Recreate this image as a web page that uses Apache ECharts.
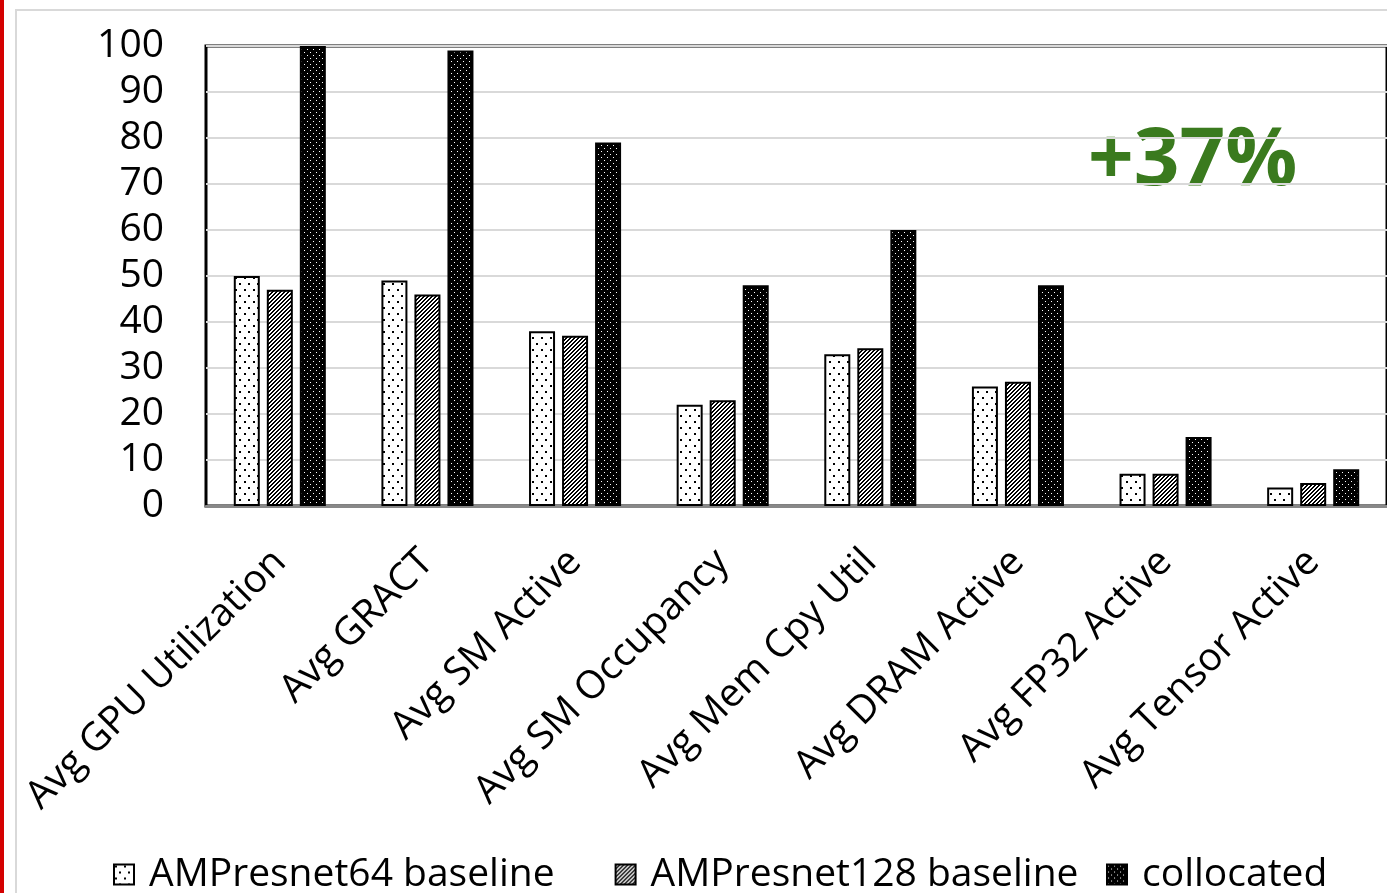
<!DOCTYPE html>
<html>
<head>
<meta charset="utf-8">
<script src="https://cdn.jsdelivr.net/npm/echarts@6/dist/echarts.min.js"></script>
<style>
  html, body { margin: 0; padding: 0; background: #fff; }
  #main { width: 1387px; height: 893px; }
</style>
</head>
<body>
<div id="main"></div>
<script>
var categories = ['Avg GPU Utilization', 'Avg GRACT', 'Avg SM Active', 'Avg SM Occupancy',
  'Avg Mem Cpy Util', 'Avg DRAM Active', 'Avg FP32 Active', 'Avg Tensor Active'];
var seriesNames = ['AMPresnet64 baseline', 'AMPresnet128 baseline', 'collocated'];
var baseline64 = [50, 49, 38, 22, 33, 26, 7, 4];
var baseline128 = [47, 46, 37, 23, 34.3, 27, 7, 5];
var collocated = [100, 99, 79, 48, 60, 48, 15, 8];
var yTicks = [0, 100, 10]; // min, max, step

var FONT = 'Open Sans';

// little canvas tiles for the fill patterns
function makeTile(w, h, bg, draw) {
  var c = document.createElement('canvas');
  c.width = w; c.height = h;
  var ctx = c.getContext('2d');
  ctx.fillStyle = bg;
  ctx.fillRect(0, 0, w, h);
  draw(ctx);
  return c;
}
var dotsTile = makeTile(9, 12, '#ffffff', function (ctx) {
  ctx.fillStyle = '#000';
  ctx.fillRect(1, 1, 2, 2);
  ctx.fillRect(5, 7, 2, 2);
});
var hatchTile = makeTile(4, 4, '#ffffff', function (ctx) {
  ctx.fillStyle = '#000';
  for (var i = 0; i < 4; i++) {
    ctx.fillRect((3 - i), i, 2, 1);
    ctx.fillRect((3 - i) - 4, i, 2, 1);
    ctx.fillRect((3 - i) + 4, i, 2, 1);
  }
});
var darkTile = makeTile(6, 6, '#000000', function (ctx) {
  ctx.fillStyle = '#fff';
  ctx.fillRect(1, 1, 1, 1);
  ctx.fillRect(4, 4, 1, 1);
});
var patterns = [dotsTile, hatchTile, darkTile];
var values = [baseline64, baseline128, collocated];

var chart = echarts.init(document.getElementById('main'));

var series = [];
for (var i = 0; i < 3; i++) {
  series.push({
    name: seriesNames[i],
    type: 'bar',
    data: values[i],
    barWidth: 26,
    barGap: '27%',
    itemStyle: {
      color: { image: patterns[i], repeat: 'repeat' },
      borderColor: '#000',
      borderWidth: 2
    }
  });
}

var legendBase = {
  top: 850,
  icon: 'rect',
  itemWidth: 20,
  itemHeight: 20,
  itemGap: 60,
  textStyle: { fontSize: 39, color: '#000', fontFamily: FONT, padding: [0, 0, 0, 10] }
};

var option = {
  animation: false,
  backgroundColor: '#fff',
  textStyle: { fontFamily: FONT },
  grid: {
    left: 206, top: 46, width: 1183, height: 460,
    show: true, borderColor: '#000', borderWidth: 3
  },
  // excel spaces the last legend entry closer, so it gets its own legend
  legend: [
    Object.assign({}, legendBase, { left: 108, data: seriesNames.slice(0, 2) }),
    Object.assign({}, legendBase, { left: 1101, data: seriesNames.slice(2) })
  ],
  xAxis: {
    type: 'category',
    data: categories,
    axisLine: { lineStyle: { color: '#888', width: 3 } },
    axisTick: { show: false },
    axisLabel: {
      rotate: 45,
      margin: 50,
      interval: 0,
      fontSize: 39,
      color: '#000',
      fontFamily: FONT
    }
  },
  yAxis: {
    type: 'value',
    min: yTicks[0],
    max: yTicks[1],
    interval: yTicks[2],
    axisLine: { show: false },
    axisTick: { show: false },
    splitLine: { lineStyle: { color: '#d9d9d9', width: 2 } },
    axisLabel: { fontSize: 39, color: '#000', margin: 42, fontFamily: FONT }
  },
  graphic: [
    { type: 'rect', shape: { x: 0, y: 0, width: 4, height: 893 }, style: { fill: '#d40000' }, silent: true },
    { type: 'rect', shape: { x: 16, y: 10, width: 1400, height: 900 },
      style: { fill: null, stroke: '#d9d9d9', lineWidth: 2 }, silent: true, z: -1 },
    { type: 'text', left: 1088, top: 122,
      style: { text: '+37%', fill: '#3a7a1e', font: 'bold 80px "' + FONT + '"' } }
  ],
  series: series
};
chart.setOption(option);
</script>
</body>
</html>
